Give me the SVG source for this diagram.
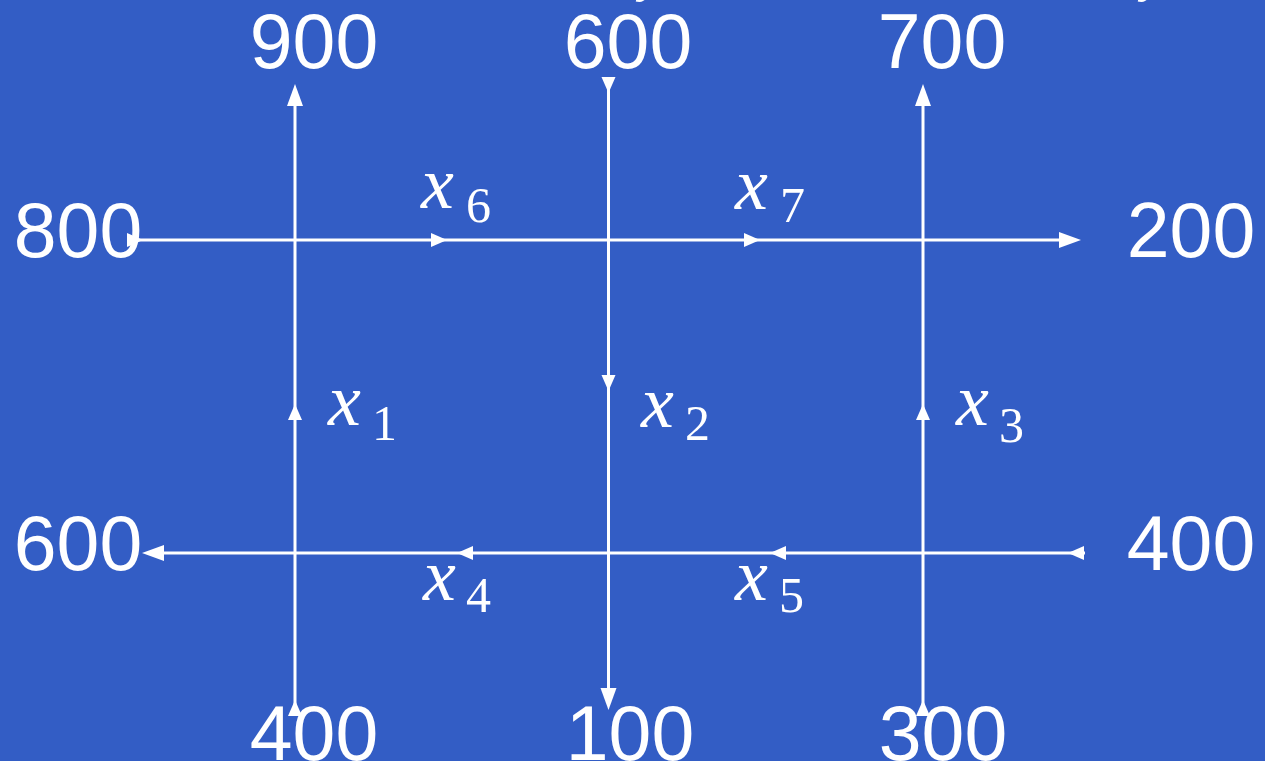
<svg xmlns="http://www.w3.org/2000/svg" width="1265" height="761" viewBox="0 0 1265 761">
  <style>
    .bg { fill: #335dc5; }
    .ln { stroke: #ffffff; stroke-width: 3; fill: none; }
    .ah { fill: #ffffff; }
    .num { font-family: "Liberation Sans", Arial, sans-serif; font-size: 77px; fill: #ffffff; text-anchor: middle; }
    .var { font-family: "Liberation Serif", "Times New Roman", serif; font-style: italic; font-size: 74px; fill: #ffffff; }
    .sub { font-family: "Liberation Serif", "Times New Roman", serif; font-size: 50px; fill: #ffffff; }
    .frag { font-family: "Liberation Serif", serif; font-style: italic; font-size: 50px; fill: #ffffff; }
  </style>
  <defs>
    <path id="a" d="M0,0 L-16,-7 L-16,7 Z"/>
    <path id="aL" d="M0,0 L-22,-8 L-22,8 Z"/>
  </defs>
  <rect class="bg" x="0" y="0" width="1265" height="761"/>

  <g id="title-fragments">
    <text class="frag" x="640" y="-9">y</text>
    <text class="frag" x="1142" y="-9">y</text>
  </g>

  <g id="connectors">
    <!-- top street: 800 -> 200 -->
    <line class="ln" x1="138" y1="240" x2="1070" y2="240"/>
    <use href="#a" class="ah" transform="translate(143,240)"/>
    <use href="#a" class="ah" transform="translate(447,240)"/>
    <use href="#a" class="ah" transform="translate(760,240)"/>
    <use href="#aL" class="ah" transform="translate(1081,240)"/>
    <!-- bottom street: 400 -> 600 -->
    <line class="ln" x1="1085" y1="553" x2="152" y2="553"/>
    <use href="#a" class="ah" transform="translate(1068,553) rotate(180)"/>
    <use href="#a" class="ah" transform="translate(457,553) rotate(180)"/>
    <use href="#a" class="ah" transform="translate(770,553) rotate(180)"/>
    <use href="#aL" class="ah" transform="translate(142,553) rotate(180)"/>
    <!-- x1: 400 -> 900 -->
    <line class="ln" x1="295" y1="716" x2="295" y2="95"/>
    <use href="#a" class="ah" transform="translate(295,700) rotate(-90)"/>
    <use href="#a" class="ah" transform="translate(295,404) rotate(-90)"/>
    <use href="#aL" class="ah" transform="translate(295,84) rotate(-90)"/>
    <!-- x2: 600 -> 100 -->
    <line class="ln" x1="608.5" y1="77" x2="608.5" y2="700"/>
    <use href="#a" class="ah" transform="translate(608.5,93) rotate(90)"/>
    <use href="#a" class="ah" transform="translate(608.5,391) rotate(90)"/>
    <use href="#aL" class="ah" transform="translate(608.5,710) rotate(90)"/>
    <!-- x3: 300 -> 700 -->
    <line class="ln" x1="923" y1="716" x2="923" y2="95"/>
    <use href="#a" class="ah" transform="translate(923,700) rotate(-90)"/>
    <use href="#a" class="ah" transform="translate(923,404) rotate(-90)"/>
    <use href="#aL" class="ah" transform="translate(923,84) rotate(-90)"/>
  </g>

  <g id="n-top-900"><text class="num" x="314" y="68">900</text></g>
  <g id="n-top-600"><text class="num" x="628" y="68">600</text></g>
  <g id="n-top-700"><text class="num" x="942" y="68">700</text></g>
  <g id="n-left-800"><text class="num" x="78" y="257">800</text></g>
  <g id="n-right-200"><text class="num" x="1191" y="257">200</text></g>
  <g id="n-left-600"><text class="num" x="78" y="570">600</text></g>
  <g id="n-right-400"><text class="num" x="1191" y="570">400</text></g>
  <g id="n-bot-400"><text class="num" x="314" y="760">400</text></g>
  <g id="n-bot-100"><text class="num" x="630" y="760">100</text></g>
  <g id="n-bot-300"><text class="num" x="943" y="760">300</text></g>

  <g id="l-x1"><text class="var" x="328" y="425">x</text><text class="sub" x="372" y="440">1</text></g>
  <g id="l-x2"><text class="var" x="641" y="427">x</text><text class="sub" x="685" y="440">2</text></g>
  <g id="l-x3"><text class="var" x="956" y="425">x</text><text class="sub" x="999" y="442">3</text></g>
  <g id="l-x6"><text class="var" x="421" y="208">x</text><text class="sub" x="466" y="222">6</text></g>
  <g id="l-x7"><text class="var" x="735" y="209">x</text><text class="sub" x="780" y="222">7</text></g>
  <g id="l-x4"><text class="var" x="423" y="600">x</text><text class="sub" x="466" y="612">4</text></g>
  <g id="l-x5"><text class="var" x="735" y="600">x</text><text class="sub" x="779" y="612">5</text></g>
</svg>
